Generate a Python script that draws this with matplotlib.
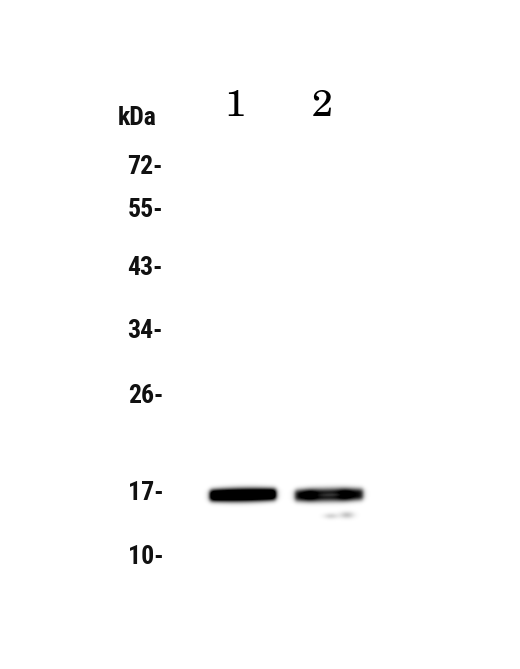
import numpy as np
import matplotlib
matplotlib.use("Agg")
import matplotlib.pyplot as plt
from matplotlib.patches import Rectangle

# ---- data ----
marker_kda = [72, 55, 43, 34, 26, 17, 10]
marker_migration = [167, 210, 268, 331, 396, 493, 557]   # migration distance (px from top)
lane_labels = ["1", "2"]
lane_centers = [243, 329]
lane_widths = [66, 68]
band_kda = [17, 17]
band_intensity = [1.0, 0.66]

W, H = 520, 669
fig = plt.figure(figsize=(W / 100, H / 100), dpi=100)
ax = fig.add_axes([0, 0, 1, 1])
ax.set_xlim(0, W)
ax.set_ylim(H, 0)
ax.axis("off")

# faint top strip and gel edge
ax.add_patch(Rectangle((172, 0), 296, 35, color="#f8f8f8", lw=0, zorder=0))
ax.plot([172, 172], [75, 625], color="#f2f2f2", lw=1.2, zorder=0)

# band intensity image
xs = np.arange(W) + 0.5
ys = np.arange(H) + 0.5
X, Y = np.meshgrid(xs, ys)
img = np.zeros((H, W))
logk = np.log(marker_kda)
for i, (c, w, k, a) in enumerate(zip(lane_centers, lane_widths, band_kda, band_intensity)):
    yc = np.interp(np.log(k), logk[::-1], np.array(marker_migration)[::-1]) + 2.5
    x0, x1 = c - w / 2, c + w / 2
    hor = 0.5 * (np.tanh((X - x0) / 2.8) - np.tanh((X - x1) / 2.8))
    t = (X - x0) / w
    half = 6.0 + 0.8 * np.sin(t * np.pi)
    ycc = yc - 1.2 * t
    ver = np.exp(-np.abs((Y - ycc) / half) ** 2.6)
    band = a * 1.5 * hor * ver
    if i == 1:
        # slightly lighter streak through the middle of lane 2 band, darker knots
        band *= 1 - 0.2 * np.exp(-((Y - ycc) / 2.2) ** 2) * np.exp(-((X - c - 3) / 18) ** 2)
        band *= 1 + 0.25 * (np.exp(-((X - 310) / 8) ** 2) + np.exp(-((X - 345) / 8) ** 2))
    img += band
# faint smudge below lane 2
img += 0.16 * np.exp(-(((X - 331) / 7) ** 2 + ((Y - 516) / 3) ** 2))
img += 0.22 * np.exp(-(((X - 347) / 7) ** 2 + ((Y - 515) / 3.5) ** 2))
img = np.clip(img, 0, 1)
ax.imshow(img, cmap="gray_r", vmin=0, vmax=1, extent=(0, W, H, 0),
          interpolation="bilinear", zorder=1, aspect="auto")

# marker labels
mfont = dict(family=["Roboto Condensed", "Barlow Condensed", "Archivo Narrow", "DejaVu Sans"],
             weight="bold", fontsize=18.5, color="#111111")
ax.text(157, 118, "kDa", ha="right", va="center", **mfont)
for k, y in zip(marker_kda, marker_migration):
    ax.text(163, y, f"{k}-", ha="right", va="center", **mfont)

# lane labels
for lab, x in zip(lane_labels, [235, 322]):
    ax.text(x, 107, lab, ha="center", va="center",
            family=["TeX Gyre Schola", "Century Schoolbook L", "Liberation Serif", "DejaVu Serif"],
            fontsize=27, color="black")

fig.savefig("out.png", dpi=100)
